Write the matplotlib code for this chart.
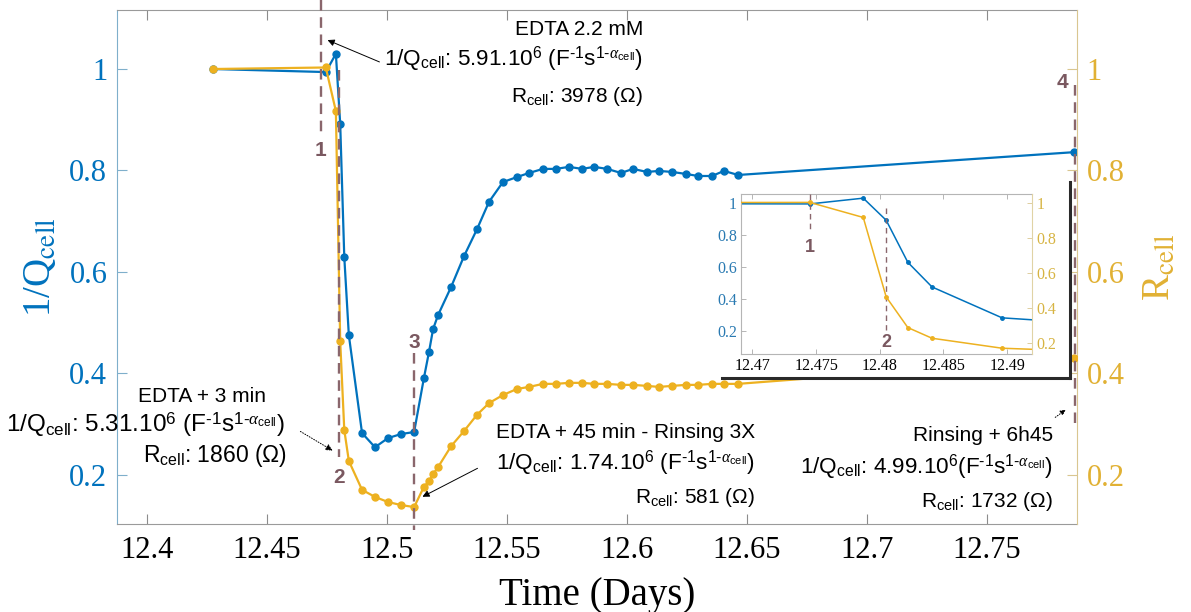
import matplotlib
matplotlib.use("Agg")
import matplotlib.pyplot as plt

# ---------------- data ----------------
time_days = [12.4275, 12.4745, 12.4787, 12.4805, 12.4822, 12.4841, 12.4896, 12.4950,
             12.5004, 12.5058, 12.5113, 12.5154, 12.5175, 12.5192, 12.5213, 12.5267,
             12.5321, 12.5375, 12.5425, 12.5483, 12.5542, 12.5592, 12.5650, 12.5704,
             12.5758, 12.5813, 12.5863, 12.5917, 12.5975, 12.6025, 12.6083, 12.6133,
             12.6188, 12.6246, 12.6296, 12.6354, 12.6404, 12.6463, 12.7863]
inv_q_cell = [1.000, 0.994, 1.030, 0.892, 0.629, 0.475, 0.282, 0.254,
              0.272, 0.280, 0.284, 0.391, 0.442, 0.487, 0.515, 0.570,
              0.631, 0.684, 0.738, 0.777, 0.787, 0.795, 0.803, 0.803,
              0.807, 0.803, 0.807, 0.803, 0.795, 0.803, 0.797, 0.799,
              0.797, 0.793, 0.789, 0.789, 0.799, 0.791, 0.836]
r_cell = [1.000, 1.003, 0.917, 0.463, 0.288, 0.227, 0.170, 0.156,
          0.146, 0.140, 0.136, 0.176, 0.187, 0.201, 0.215, 0.256,
          0.286, 0.318, 0.341, 0.357, 0.369, 0.373, 0.379, 0.379,
          0.381, 0.381, 0.379, 0.379, 0.377, 0.377, 0.375, 0.373,
          0.375, 0.377, 0.377, 0.379, 0.379, 0.379, 0.430]

x_ticks = [12.4, 12.45, 12.5, 12.55, 12.6, 12.65, 12.7, 12.75]
x_tick_labels = ["12.4", "12.45", "12.5", "12.55", "12.6", "12.65", "12.7", "12.75"]
y_ticks = [0.2, 0.4, 0.6, 0.8, 1.0]
y_tick_labels = ["0.2", "0.4", "0.6", "0.8", "1"]

inset_x_ticks = [12.47, 12.475, 12.48, 12.485, 12.49]
inset_x_tick_labels = ["12.47", "12.475", "12.48", "12.485", "12.49"]

event_days = [12.4725, 12.4800, 12.5113, 12.7867]
event_labels = ["1", "2", "3", "4"]
inset_event_days = [12.4745, 12.4805]
inset_event_labels = ["1", "2"]

ann_titles = ["EDTA 2.2 mM", "EDTA + 3 min", "EDTA + 45 min - Rinsing 3X", "Rinsing + 6h45"]
ann_invq = ["5.91", "5.31", "1.74", "4.99"]
ann_r = ["3978", "1860", "581", "1732"]

# ---------------- style ----------------
BLUE = "#0072BD"
YEL = "#EDB120"
DASH = "#8A666C"
NUM = "#7A5860"

plt.rcParams["font.family"] = ["Liberation Serif", "DejaVu Serif"]
plt.rcParams["mathtext.fontset"] = "custom"
plt.rcParams["mathtext.rm"] = "Liberation Sans"
plt.rcParams["mathtext.it"] = "Liberation Serif:italic"
plt.rcParams["mathtext.bf"] = "Liberation Sans:bold"

W, H = 1191, 612
fig = plt.figure(figsize=(W / 100, H / 100), dpi=100)


def fig_rect(x0, y0, x1, y1):
    return [x0 / W, 1 - y1 / H, (x1 - x0) / W, (y1 - y0) / H]


def pos(xp, yp):
    # pixel position in the main plot -> main data coordinates (layout helper for text)
    return 12.4 + (xp - 147) / 2400.0, 1 - (yp - 69) / 507.0


ax = fig.add_axes(fig_rect(117, 10, 1077, 524))
XL = (12.3875, 12.7875)
YL = (0.1026, 1.1164)
ax.set_xlim(*XL)
ax.set_ylim(*YL)
ax.plot(time_days, inv_q_cell, color=BLUE, marker="o", ms=5, lw=1.6, zorder=3)

ax2 = ax.twinx()
ax2.set_ylim(*YL)
ax2.plot(time_days, r_cell, color=YEL, marker="o", ms=5, lw=1.6, zorder=3)

ax.set_xticks(x_ticks)
ax.set_xticklabels(x_tick_labels)
ax.set_yticks(y_ticks)
ax.set_yticklabels(y_tick_labels)
ax2.set_yticks(y_ticks)
ax2.set_yticklabels(y_tick_labels)

ax.tick_params(axis="x", direction="in", top=True, length=7, width=0.8,
               color="#8c8c8c", labelsize=22, pad=9)
ax.tick_params(axis="y", direction="in", length=7, width=0.8,
               color="#7FAFCB", labelcolor=BLUE, labelsize=22, pad=7)
ax2.tick_params(axis="y", direction="in", length=7, width=0.8,
                color="#D9C690", labelcolor="#E1B134", labelsize=22, pad=7)

ax.spines["left"].set_color("#7FAFCB")
ax.spines["top"].set_color("#9a9a9a")
ax.spines["bottom"].set_color("#9a9a9a")
ax.spines["right"].set_visible(False)
ax2.spines["right"].set_color("#D9C690")
for s in ("left", "top", "bottom"):
    ax2.spines[s].set_visible(False)

ax.set_ylabel(r"1/Q$_{\mathrm{cell}}$", color=BLUE, fontsize=28, math_fontfamily="stix")
ax.yaxis.set_label_coords(-0.08, 0.5)
ax.yaxis.label.set_va("center")
ax2.set_ylabel(r"R$_{\mathrm{cell}}$", color="#E1B134", fontsize=28, math_fontfamily="stix",
               rotation=90)
ax2.yaxis.set_label_coords(1.087, 0.5)
ax2.yaxis.label.set_va("center")
ax.set_xlabel("Time (Days)", fontsize=28)
ax.xaxis.set_label_coords(0.5, -(605 - 524) / 514)
ax.xaxis.label.set_va("baseline")

# event dashed lines and numbers
ev_spans = [(pos(0, 0)[1], pos(0, 133)[1]), (pos(0, 70)[1], pos(0, 457)[1]),
            (pos(0, 353)[1], pos(0, 530)[1]), (pos(0, 85)[1], pos(0, 423)[1])]
ev_label_pos = [pos(320, 150), pos(339, 477), pos(413, 342), pos(1062, 82)]
for d, (y0, y1), lab, (lx, ly) in zip(event_days, ev_spans, event_labels, ev_label_pos):
    if lab != "4":
        lx = d
    ax2.plot([d, d], [y0, y1], color=DASH, lw=1.7, dashes=(4.5, 2.8), clip_on=False, zorder=5)
    ax2.text(lx, ly, lab, color=NUM, fontsize=15, fontweight="bold", family="Liberation Sans",
             ha="center", va="center", zorder=6)

# annotations
sans = dict(family="Liberation Sans", color="black", math_fontfamily="custom",
            va="baseline", zorder=7)


def qline(v, compact=False):
    sep = "" if compact else " "
    return (r"1/Q$_{\mathrm{cell}}$: " + v + r".10$^{6}$" + sep +
            r"(F$^{\text{-}1}$s$^{1\text{-}\alpha_{\mathrm{cell}}}$)")


def rline(v):
    return r"R$_{\mathrm{cell}}$: " + v + " (Ω)"


# 1: EDTA 2.2 mM
ax2.text(*pos(643, 35), ann_titles[0], ha="right", fontsize=15, **sans)
ax2.text(*pos(643, 65), qline(ann_invq[0]), ha="right", fontsize=16.2, **sans)
ax2.text(*pos(643, 102), rline(ann_r[0]), ha="right", fontsize=15, **sans)
ax2.annotate("", xy=pos(325, 39), xytext=pos(382, 63),
             arrowprops=dict(arrowstyle="-|>", color="black", lw=0.7, mutation_scale=10))
# 2: EDTA + 3 min
ax2.text(*pos(202, 402), ann_titles[1], ha="center", fontsize=15, **sans)
ax2.text(*pos(6, 432), qline(ann_invq[1]), ha="left", fontsize=17.5, **sans)
ax2.text(*pos(143, 462), rline(ann_r[1]), ha="left", fontsize=16.5, **sans)
ax2.annotate("", xy=pos(335, 452), xytext=pos(298, 430),
             arrowprops=dict(arrowstyle="-|>", color="black", lw=0.7, ls=":", mutation_scale=10))
# 3: EDTA + 45 min
ax2.text(*pos(755, 438), ann_titles[2], ha="right", fontsize=15, **sans)
ax2.text(*pos(755, 469), qline(ann_invq[2]), ha="right", fontsize=16.2, **sans)
ax2.text(*pos(755, 503), rline(ann_r[2]), ha="right", fontsize=15, **sans)
ax2.annotate("", xy=pos(420, 498), xytext=pos(480, 467),
             arrowprops=dict(arrowstyle="-|>", color="black", lw=0.7, mutation_scale=10))
# 4: Rinsing + 6h45
ax2.text(*pos(1053, 441), ann_titles[3], ha="right", fontsize=15, **sans)
ax2.text(*pos(1053, 473), qline(ann_invq[3], compact=True), ha="right", fontsize=16.2, **sans)
ax2.text(*pos(1053, 507), rline(ann_r[3]), ha="right", fontsize=15, **sans)
ax2.annotate("", xy=pos(1068, 408), xytext=pos(1053, 419),
             arrowprops=dict(arrowstyle="-|>", color="black", lw=0.7, ls=":", mutation_scale=8))

# ---------------- inset ----------------
box = fig.add_axes(fig_rect(722, 182, 1070, 378))
box.set_facecolor("white")
box.set_xticks([])
box.set_yticks([])
box.spines["top"].set_visible(False)
box.spines["left"].set_visible(False)
box.spines["right"].set_color("#2a2a2a")
box.spines["bottom"].set_color("#2a2a2a")
box.spines["right"].set_linewidth(2.2)
box.spines["bottom"].set_linewidth(2.2)

axin = fig.add_axes(fig_rect(741, 194, 1032, 354))
axin.set_xlim(12.4691, 12.49195)
axin.set_ylim(0.056, 1.056)
axin.plot(time_days, inv_q_cell, color=BLUE, marker="o", ms=2.5, lw=1.1)
axin2 = axin.twinx()
axin2.set_ylim(0.137, 1.051)
axin2.plot(time_days, r_cell, color=YEL, marker="o", ms=2.5, lw=1.1)

axin.set_xticks(inset_x_ticks)
axin.set_xticklabels(inset_x_tick_labels)
axin.set_yticks(y_ticks)
axin.set_yticklabels(y_tick_labels)
axin2.set_yticks(y_ticks)
axin2.set_yticklabels(y_tick_labels)
axin.tick_params(axis="x", direction="in", top=True, length=3.5, width=0.6,
                 color="#aaaaaa", labelsize=11.5, pad=3)
axin.tick_params(axis="y", direction="in", length=3.5, width=0.6,
                 color="#aaaaaa", labelcolor="#2A7AB2", labelsize=11.5, pad=3)
axin2.tick_params(axis="y", direction="in", length=3.5, width=0.6,
                  color="#D9C690", labelcolor="#D7B443", labelsize=11.5, pad=3)
for s in ("left", "top", "bottom"):
    axin.spines[s].set_color("#b5b5b5")
    axin2.spines[s].set_visible(False)
axin.spines["right"].set_visible(False)
axin2.spines["right"].set_color("#E0D3A5")

inset_spans = [(1.056, 0.819), (0.969, 0.206)]
inset_label_y = [0.72, 0.125]
for d, (y0, y1), lab, ly in zip(inset_event_days, inset_spans, inset_event_labels, inset_label_y):
    axin.plot([d, d], [y0, y1], color=DASH, lw=1.0, dashes=(4, 3), zorder=5)
    axin.text(d, ly, lab, color=NUM, fontsize=13, fontweight="bold", family="Liberation Sans",
              ha="center", va="center", zorder=6)

fig.savefig("out.png", dpi=100)
